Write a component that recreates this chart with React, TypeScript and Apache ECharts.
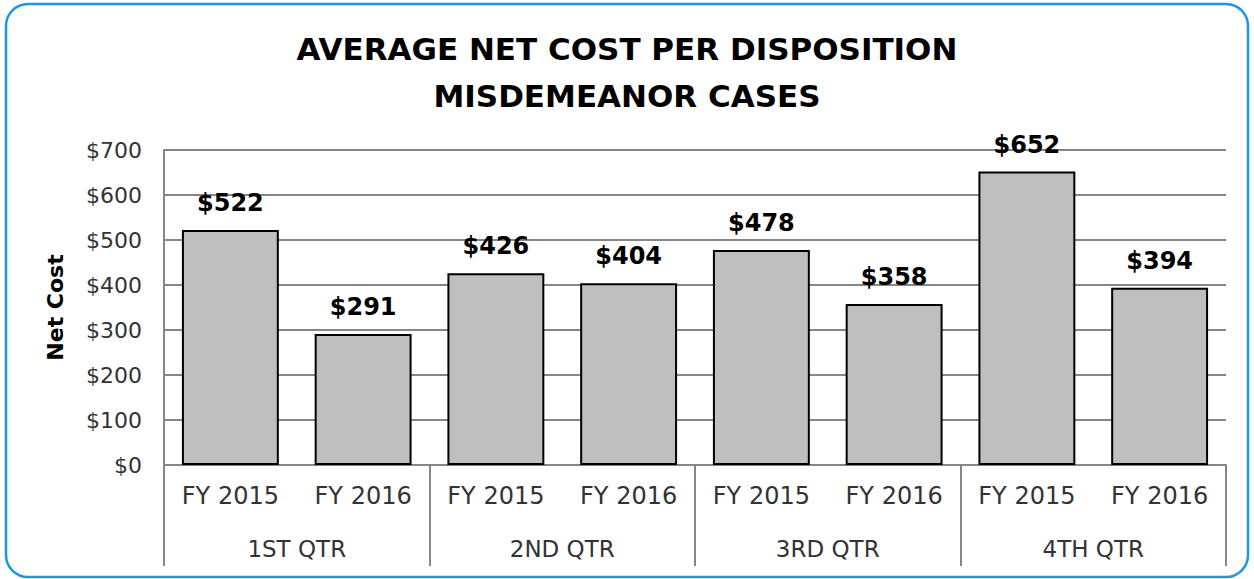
import React, { useEffect, useRef } from "react";
import * as echarts from "echarts";

const years = ["FY 2015", "FY 2016", "FY 2015", "FY 2016", "FY 2015", "FY 2016", "FY 2015", "FY 2016"];
const quarters = ["1ST QTR", "2ND QTR", "3RD QTR", "4TH QTR"];
const netCost = [522, 291, 426, 404, 478, 358, 652, 394];
const titleLines = ["AVERAGE NET COST PER DISPOSITION", "MISDEMEANOR CASES"];

export default function App() {
  const ref = useRef<HTMLDivElement>(null);
  useEffect(() => {
    if (!ref.current) return;
    const chart = echarts.init(ref.current, undefined, { renderer: "svg" });
    const font = "DejaVu Sans";
    chart.setOption({
      animation: false,
      backgroundColor: "#ffffff",
      title: {
        text: titleLines.join("\n"),
        left: "center",
        top: 20,
        textStyle: { fontFamily: font, fontSize: 31, fontWeight: "bold", color: "#000", lineHeight: 47 },
      },
      graphic: [
        {
          type: "rect",
          shape: { x: 6, y: 4, width: 1242, height: 573, r: 22 },
          style: { fill: "none", stroke: "#1e96e6", lineWidth: 2.5 },
          z: 100,
        },
      ],
      grid: { left: 164, right: 28, top: 150, bottom: 114 },
      xAxis: [
        {
          type: "category",
          data: years,
          position: "bottom",
          axisLine: { show: true, lineStyle: { color: "#868686", width: 2 } },
          axisTick: { show: false },
          axisLabel: { fontFamily: font, fontSize: 24, color: "#333", margin: 19 },
        },
        {
          type: "category",
          data: quarters,
          position: "bottom",
          axisLine: { show: false },
          axisTick: { show: true, length: 101, interval: 0, lineStyle: { color: "#868686", width: 2 } },
          axisLabel: { fontFamily: font, fontSize: 23, color: "#333", margin: 72 },
        },
      ],
      yAxis: {
        type: "value",
        min: 0,
        max: 700,
        interval: 100,
        name: "Net Cost",
        nameLocation: "middle",
        nameGap: 98,
        nameTextStyle: { fontFamily: font, fontSize: 22, fontWeight: "bold", color: "#000" },
        axisLine: { show: true, lineStyle: { color: "#868686", width: 2 } },
        axisTick: { show: false },
        splitLine: { lineStyle: { color: "#868686", width: 2 } },
        axisLabel: { fontFamily: font, fontSize: 22, color: "#333", margin: 22, formatter: (v: number) => "$" + v },
      },
      series: [
        {
          type: "bar",
          data: netCost,
          xAxisIndex: 0,
          barCategoryGap: "27%",
          itemStyle: { color: "#bfbfbf", borderColor: "#000", borderWidth: 2 },
          label: {
            show: true,
            position: "top",
            distance: 15,
            fontFamily: font,
            fontSize: 24,
            fontWeight: "bold",
            color: "#000",
            formatter: (p: any) => "$" + p.value,
          },
        },
      ],
    });
    return () => chart.dispose();
  }, []);
  return (
    <div
      ref={ref}
      style={{ position: "fixed", left: 0, top: 0, width: 1254, height: 579 }}
    />
  );
}
